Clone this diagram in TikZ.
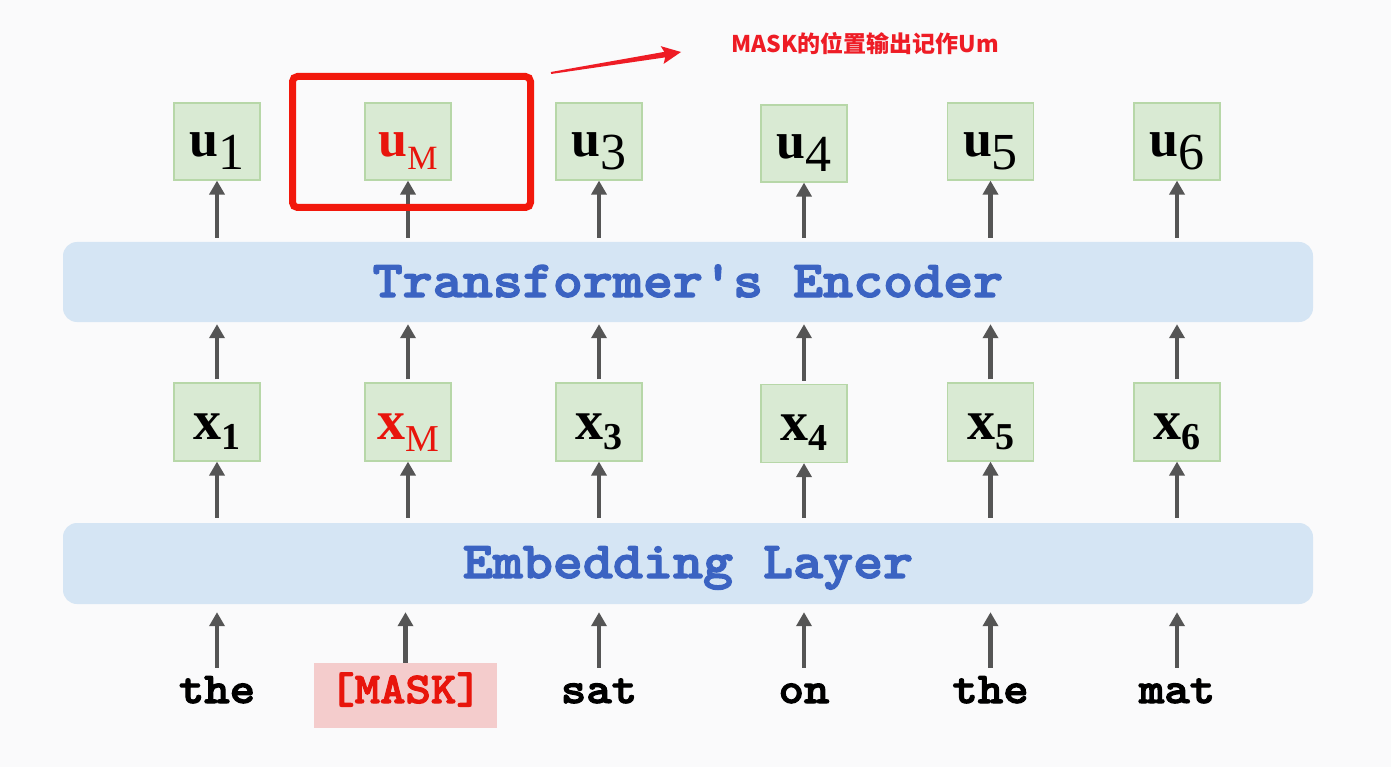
\documentclass[tikz,border=0pt]{standalone}
\usepackage{fontspec}
\setmainfont{Liberation Serif}
\newfontfamily\courb{lmmonolt10-bold.otf}[FakeStretch=1.1,FakeBold=2.5]
\newfontfamily\cjkfont{Noto Sans CJK SC}
\usetikzlibrary{arrows.meta,calc}
\definecolor{bgc}{HTML}{FAFAFB}
\definecolor{gfill}{HTML}{D9EAD3}
\definecolor{gline}{HTML}{B7D7A8}
\definecolor{bfill}{HTML}{D5E5F4}
\definecolor{btext}{HTML}{3B63C2}
\definecolor{arrc}{HTML}{555555}
\definecolor{hlred}{HTML}{F2180C}
\definecolor{lred}{HTML}{E8150C}
\definecolor{pink}{HTML}{F4CCCC}
\definecolor{notered}{HTML}{EE1C25}
\newcommand{\usz}{\fontsize{52pt}{52pt}\selectfont}
\newcommand{\msz}{\fontsize{34pt}{34pt}\selectfont}
\newcommand{\xsz}{\fontsize{56pt}{56pt}\selectfont}
\newcommand{\xssz}{\fontsize{38pt}{38pt}\selectfont}
\newcommand{\ulab}[1]{{\usz\bfseries u\raisebox{-13pt}{\mdseries #1}}}
\newcommand{\xlab}[1]{{\xsz\bfseries x\raisebox{-10pt}{\xssz #1}}}
\begin{document}
\begin{tikzpicture}[x=1pt,y=-1pt,
  gbox/.style={draw=gline, fill=gfill, line width=1.2pt, minimum width=86pt, minimum height=77pt, inner sep=0pt},
  ubox/.style={gbox, text height=40pt, text depth=9pt},
  xbox/.style={gbox, minimum height=78pt, text height=44pt, text depth=10pt},
  bar/.style={fill=bfill, rounded corners=14pt, minimum width=1250pt, minimum height=80pt, inner sep=0pt,
    text=btext, font=\fontsize{52pt}{52pt}\selectfont\courb},
  word/.style={anchor=base, inner sep=0pt, text height=28pt, text depth=8pt,
    font=\fontsize{44pt}{44pt}\selectfont\courb},
  arr/.style={draw=arrc, line width=4.5pt, -{Triangle[width=15pt,length=14pt]}},
  hlbox/.style={draw=hlred, line width=7pt, rounded corners=5pt, minimum width=238pt, minimum height=131pt, inner sep=0pt}]
\useasboundingbox (0,0) rectangle (1391,767);
\fill[bgc] (0,0) rectangle (1391,767);

% bars
\node[bar, text height=40pt, text depth=10pt] (enc) at (688,282) {Transformer's Encoder};
\node[bar, minimum height=81pt, text height=39pt, text depth=10pt] (emb) at (688,563.5) {Embedding Layer};

% output boxes
\node[ubox] (u1) at (217,141.5) {\ulab{1}};
\node[ubox, text=lred] (uM) at (408,141.5) {{\usz\bfseries u\raisebox{-13pt}{\msz\mdseries M}}};
\node[ubox] (u3) at (599,141.5) {\ulab{3}};
\node[ubox] (u4) at (804,143.5) {\ulab{4}};
\node[ubox] (u5) at (990.5,141.5) {\ulab{5}};
\node[ubox] (u6) at (1177,141.5) {\ulab{6}};

% embedding boxes
\node[xbox] (x1) at (217,422) {\xlab{1}};
\node[xbox, text=lred] (xM) at (408,422) {{\xsz\bfseries x\raisebox{-12pt}{\xssz\mdseries M}}};
\node[xbox] (x3) at (599,422) {\xlab{3}};
\node[xbox] (x4) at (804,423.5) {\xlab{4}};
\node[xbox] (x5) at (990.5,422) {\xlab{5}};
\node[xbox] (x6) at (1177,422) {\xlab{6}};

% words
\node[word] (w1) at (217,703) {the};
\node[fill=pink, minimum width=183pt, minimum height=65pt, inner sep=0pt, text height=28pt, text depth=13pt,
  text=lred, font=\fontsize{44pt}{44pt}\selectfont\courb] (wM) at (405.5,695.5) {[MASK]};
\node[word] (w3) at (599,703) {sat};
\node[word] (w4) at (804,703) {on};
\node[word] (w5) at (990.5,703) {the};
\node[word] (w6) at (1177,703) {mat};

% arrows
\foreach \i in {1,M,3,4,5,6} {
  \draw[arr, shorten <=4pt] (u\i |- enc.north) -- (u\i.south);
  \draw[arr, shorten <=3pt, shorten >=2pt] (x\i.north) -- (x\i |- enc.south);
  \draw[arr, shorten <=5pt] (x\i |- emb.north) -- (x\i.south);
}
\foreach \i in {1,3,4,5,6} {
  \draw[arr, shorten <=7pt, shorten >=8pt] (w\i.north) -- (w\i |- emb.south);
}
\draw[arr, shorten >=8pt] (wM.north) -- (wM |- emb.south);

% highlight
\node[hlbox] (hl) at (411.5,142) {};

% red note arrow
\coordinate (a0) at (551,73);
\coordinate (a1) at (681,52);
\coordinate (h) at ($(a0)!0.875!(a1)$);
\coordinate (hb) at ($(a0)!0.855!(a1)$);
\fill[notered] ($(a0)!1pt!90:(a1)$) -- ($(h)!2.8pt!90:(a1)$) -- ($(hb)!9pt!90:(a1)$) -- (a1)
  -- ($(hb)!9pt!-90:(a1)$) -- ($(h)!2.8pt!-90:(a1)$) -- ($(a0)!1pt!-90:(a1)$) -- cycle;
\node[text=notered, inner sep=0pt, font=\fontsize{23pt}{23pt}\selectfont\cjkfont\bfseries] (note) at (865,44) {MASK的位置输出记作Um};
\end{tikzpicture}
\end{document}
